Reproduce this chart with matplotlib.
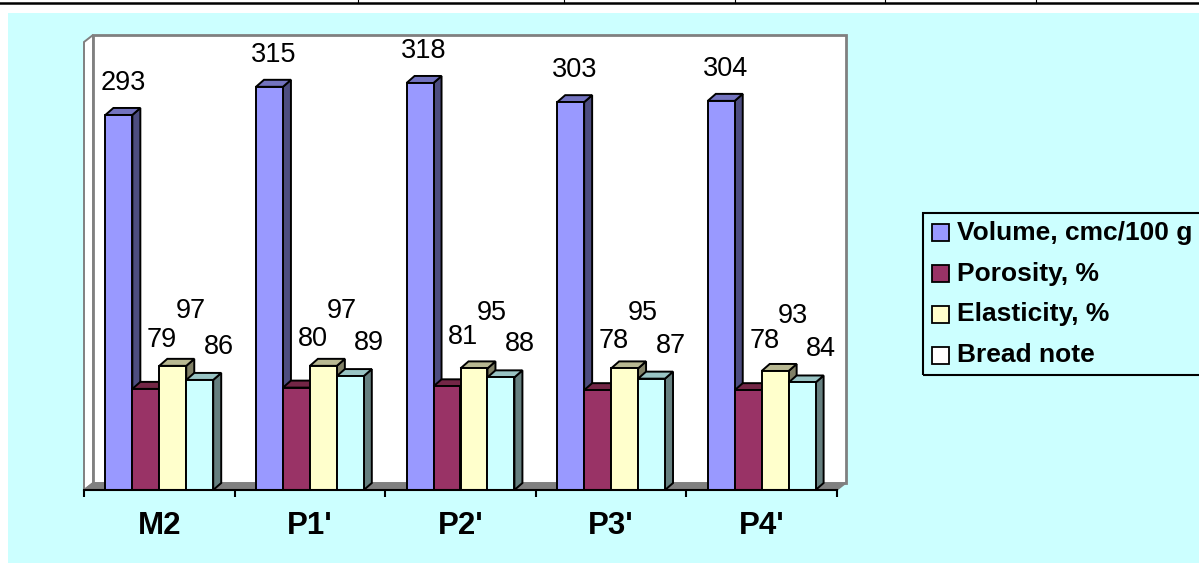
"""Bread quality indicators per sample, drawn as Excel-style 3D clustered columns."""

import matplotlib
matplotlib.use("Agg")
import matplotlib.pyplot as plt
from matplotlib.lines import Line2D
from matplotlib.patches import Polygon, Rectangle
import numpy as np

plt.rcParams["font.family"] = ["Liberation Sans", "DejaVu Sans"]

samples = ["M2", "P1'", "P2'", "P3'", "P4'"]
series = ["Volume, cmc/100 g", "Porosity, %", "Elasticity, %", "Bread note"]
volume = [293, 315, 318, 303, 304]
porosity = [79, 80, 81, 78, 78]
elasticity = [97, 97, 95, 95, 93]
bread_note = [86, 89, 88, 87, 84]
values = [volume, porosity, elasticity, bread_note]

front_col = ["#9999FF", "#993366", "#FFFFCC", "#CCFFFF"]
top_col = ["#7373BF", "#732646", "#B8B892", "#99C4C4"]
side_col = ["#4D4D80", "#4D1A33", "#808066", "#668080"]
# where each value label sits relative to the top of its column (pixels)
label_off = [(4, 32), (16, 49), (18, 55), (19, 33)]

W, H = 1199, 565
fig = plt.figure(figsize=(W / 100, H / 100), dpi=100)
fig.patch.set_facecolor("white")


def fx(px):
    return px / W


def fy(py):
    return 1 - py / H


# page bits: table border line at the top and the cyan chart area
fig.add_artist(Rectangle((fx(8), fy(563)), 1 - fx(8), (563 - 13) / H,
                         transform=fig.transFigure, facecolor="#CCFFFF",
                         edgecolor="none", zorder=0))
fig.add_artist(Line2D([0, 1], [fy(3), fy(3)], transform=fig.transFigure,
                      color="black", lw=1.8))
for cx in [358, 564, 735, 885, 1036]:
    fig.add_artist(Line2D([fx(cx), fx(cx)], [fy(0), fy(3)],
                          transform=fig.transFigure, color="black", lw=0.8))

ax = fig.add_axes([fx(84), fy(490), fx(837) - fx(84), (490 - 42) / H])
ax.set_xlim(0, len(samples))
ax.set_ylim(0, 350)
ax.patch.set_visible(False)

ppx = (837 - 84) / len(samples)
ppy = 448 / 350
ddx, ddy = 8 / ppx, 7 / ppy      # column depth
wdx, wdy = 9 / ppx, 7 / ppy      # wall depth
n = len(samples)
ymax = 350

gray = "#808080"
ax.add_patch(Rectangle((wdx, wdy), n, ymax, facecolor="white", edgecolor=gray,
                       lw=2, zorder=0.1, clip_on=False))
ax.add_patch(Polygon([(0, 0), (wdx, wdy), (wdx, ymax + wdy), (0, ymax)],
                     facecolor="white", edgecolor=gray, lw=1.4, zorder=0.2,
                     clip_on=False))
ax.add_patch(Polygon([(0, 0), (wdx, wdy), (n + wdx, wdy), (n, 0)],
                     facecolor=gray, edgecolor=gray, lw=1, zorder=0.3,
                     clip_on=False))

bw = 0.179
for i in range(n):
    for j, vals in enumerate(values):
        v = vals[i]
        x0 = i + 0.5 + (j - 2) * bw
        z = 1 + (i * 4 + j) * 0.01
        kw = dict(edgecolor="black", lw=1.4, joinstyle="miter", clip_on=False)
        ax.add_patch(Polygon([(x0 + bw, 0), (x0 + bw + ddx, ddy),
                              (x0 + bw + ddx, v + ddy), (x0 + bw, v)],
                             facecolor=side_col[j], zorder=z, **kw))
        ax.add_patch(Polygon([(x0, v), (x0 + ddx, v + ddy),
                              (x0 + bw + ddx, v + ddy), (x0 + bw, v)],
                             facecolor=top_col[j], zorder=z + 0.001, **kw))
        ax.add_patch(Rectangle((x0, 0), bw, v, facecolor=front_col[j],
                               zorder=z + 0.002, **kw))
        ax.annotate(str(v), (x0 + bw / 2, v), xytext=label_off[j],
                    textcoords="offset pixels", ha="center", va="center",
                    fontsize=19.5, zorder=5, annotation_clip=False)

for s in ["left", "top", "right"]:
    ax.spines[s].set_visible(False)
ax.spines["bottom"].set_linewidth(1.5)
ax.spines["bottom"].set_zorder(4)
ax.set_yticks([])
ax.set_xticks(np.arange(n + 1))
ax.set_xticklabels([])
ax.tick_params(axis="x", which="major", length=5, width=1.5, direction="out")
ax.set_xticks(np.arange(n) + 0.5, minor=True)
ax.set_xticklabels(samples, minor=True, fontsize=22.5, fontweight="bold")
ax.tick_params(axis="x", which="minor", length=0, pad=15)

# legend box, running off the right edge
fig.add_artist(Rectangle((fx(923), fy(375)), fx(1215) - fx(923), (375 - 213) / H,
                         transform=fig.transFigure, fill=False,
                         edgecolor="black", lw=1.5, zorder=3))
for k, name in enumerate(series):
    yc = 233 + k * 40.7
    fig.add_artist(Rectangle((fx(932), fy(yc + 8.5)), 17 / W, 17 / H,
                             transform=fig.transFigure,
                             facecolor=front_col[k] if k < 3 else "white",
                             edgecolor="black", lw=1.3, zorder=3))
    fig.text(fx(957), fy(yc), name, ha="left", va="center", fontsize=19,
             fontweight="bold", zorder=3)

fig.savefig("out.png", dpi=100)
